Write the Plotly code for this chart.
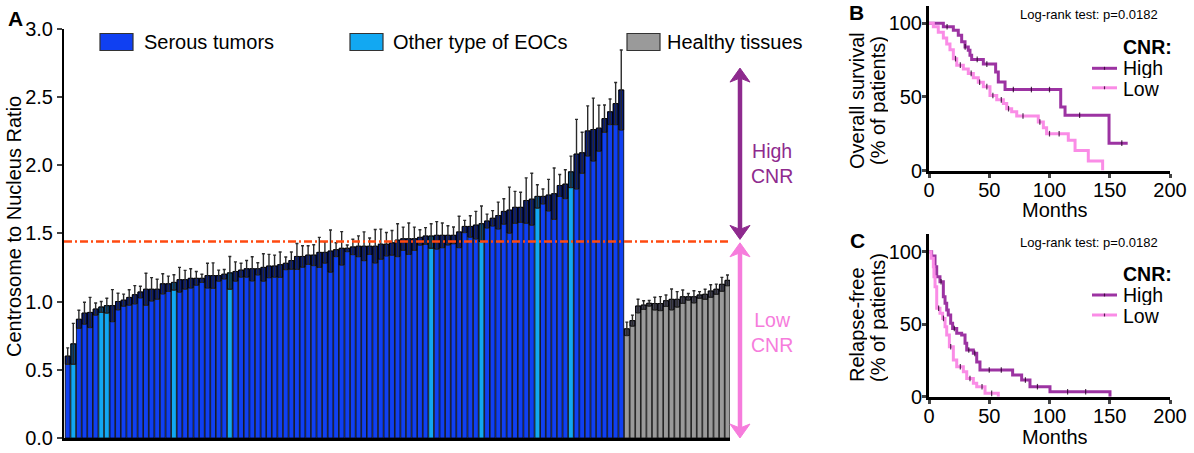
import plotly.graph_objects as go

W, H = 1194, 453
FONT = "Liberation Sans, Arial, Helvetica, sans-serif"

# ---- Panel A: centrosome-to-nucleus ratio per sample (mean, sem), sorted ----
tumor_ratio = [
    0.60, 0.69, 0.87, 0.915, 0.92, 0.945, 0.96, 0.97, 0.97, 1.00,
    1.01, 1.03, 1.05, 1.07, 1.09, 1.09, 1.09, 1.13, 1.13, 1.14,
    1.16, 1.16, 1.17, 1.17, 1.17, 1.19, 1.19, 1.19, 1.20, 1.21,
    1.22, 1.23, 1.24, 1.24, 1.24, 1.25, 1.26, 1.26, 1.27, 1.28,
    1.30, 1.33, 1.33, 1.34, 1.34, 1.36, 1.36, 1.37, 1.38, 1.39,
    1.39, 1.40, 1.405, 1.405, 1.405, 1.405, 1.42, 1.42, 1.43, 1.45,
    1.46, 1.46, 1.46, 1.47, 1.48, 1.48, 1.485, 1.485, 1.485, 1.485,
    1.51, 1.55, 1.55, 1.56, 1.57, 1.59, 1.61, 1.63, 1.66, 1.67,
    1.69, 1.69, 1.74, 1.75, 1.77, 1.77, 1.78, 1.79, 1.85, 1.86,
    1.95, 2.08, 2.09, 2.25, 2.26, 2.27, 2.34, 2.39, 2.45, 2.55,
]
tumor_err = [
    0.060, 0.150, 0.066, 0.080, 0.110, 0.044, 0.040, 0.054, 0.117, 0.060,
    0.044, 0.056, 0.066, 0.042, 0.117, 0.085, 0.073, 0.073, 0.056, 0.056,
    0.090, 0.068, 0.070, 0.050, 0.030, 0.090, 0.093, 0.040, 0.034, 0.120,
    0.070, 0.050, 0.060, 0.088, 0.044, 0.100, 0.085, 0.080, 0.093, 0.046,
    0.063, 0.095, 0.078, 0.068, 0.076, 0.110, 0.078, 0.154, 0.050, 0.122,
    0.024, 0.056, 0.076, 0.105, 0.060, 0.122, 0.110, 0.085, 0.090, 0.120,
    0.085, 0.115, 0.085, 0.056, 0.061, 0.090, 0.100, 0.090, 0.070, 0.061,
    0.115, 0.044, 0.078, 0.100, 0.130, 0.050, 0.056, 0.098, 0.093, 0.168,
    0.117, 0.110, 0.166, 0.190, 0.085, 0.054, 0.115, 0.188, 0.080, 0.105,
    0.115, 0.254, 0.150, 0.183, 0.230, 0.168, 0.100, 0.093, 0.154, 0.293,
]
# ranks (1-based, within tumours) of non-serous epithelial ovarian cancers
other_eoc_ranks = [2, 7, 8, 20, 30, 66, 75, 85, 91]

healthy_ratio = [
    0.80, 0.86, 0.967, 0.974, 0.987, 0.985, 0.985, 1.006, 1.016, 1.016,
    1.035, 1.035, 1.035, 1.048, 1.053, 1.077, 1.09, 1.126, 1.155,
]
healthy_err = [
    0.049, 0.040, 0.049, 0.032, 0.020, 0.046, 0.051, 0.042, 0.076, 0.056,
    0.049, 0.024, 0.044, 0.024, 0.037, 0.046, 0.037, 0.051, 0.039,
]
cnr_cutoff = 1.44
ratio_ticks = [0.0, 0.5, 1.0, 1.5, 2.0, 2.5, 3.0]

# ---- Panels B/C: Kaplan-Meier step curves (months, % of patients) ----
os_high_t = [0, 11.9, 20.2, 24.3, 27.1, 29.9, 32.6, 34.0, 35.4, 45.1, 55.3, 57.5, 63.1, 109.3, 112.9, 149.4, 164.9]
os_high_s = [100, 97.7, 95.4, 92.0, 87.5, 84.0, 81.8, 78.4, 75.5, 72.3, 67.0, 60.2, 55.0, 43.2, 37.5, 18.6, 18.6]
os_low_t = [0, 3.6, 7.7, 11.9, 14.7, 17.4, 20.2, 23.0, 28.5, 32.6, 36.8, 40.9, 45.1, 50.6, 56.2,
            61.7, 64.5, 68.6, 72.8, 90.7, 94.9, 97.6, 115.6, 121.2, 132.2, 144.1]
os_low_s = [100, 97.7, 94.0, 90.0, 86.0, 82.0, 76.0, 71.6, 69.0, 66.0, 63.0, 60.0, 57.0, 51.0, 48.0,
            45.5, 42.0, 40.0, 37.0, 33.0, 29.0, 25.0, 20.5, 13.6, 6.4, 0]
os_high_cens = [15, 30, 40, 48, 70, 85, 100, 125, 160]
os_low_cens = [22, 26, 35, 42, 48, 53, 60, 66, 78, 92, 100, 108]

rfs_high_t = [0, 2.2, 5.0, 6.4, 9.1, 11.9, 13.3, 14.7, 16.0, 18.0, 19.6, 23.0, 27.1, 29.9, 31.3,
              36.8, 39.6, 42.3, 69.4, 76.9, 83.8, 100.4, 150.2]
rfs_high_s = [100, 97.0, 89.6, 82.8, 79.3, 69.0, 64.4, 59.8, 56.3, 50.6, 47.0, 43.7, 42.5, 36.8, 32.2,
              29.9, 24.0, 18.4, 15.0, 11.5, 6.9, 3.4, 0]
rfs_low_t = [0, 1.7, 3.6, 4.1, 5.0, 6.4, 9.1, 11.3, 13.3, 14.7, 16.9, 20.2, 23.0, 28.5, 31.3, 36.8, 39.6, 46.5, 57.5]
rfs_low_s = [100, 95.4, 89.7, 82.8, 75.9, 61.0, 57.5, 54.0, 48.3, 42.5, 34.5, 25.3, 20.7, 17.2, 12.6, 9.2, 6.9, 2.3, 0]
rfs_high_cens = [10, 21, 33, 38, 50, 60, 80, 90, 115, 130]
rfs_low_cens = [8, 12, 18, 26, 34, 44, 52]

month_ticks = [0, 50, 100, 150, 200]
pct_ticks = [0, 50, 100]
pvalue_text = "Log-rank test: p=0.0182"

# ---- colours ----
SEROUS = "#1040F2"
OTHER = "#12A8F2"
HEALTHY = "#9A9A9A"
CUT = "#FF4A10"
HIGH = "#8E2A8E"
LOW = "#F67CDC"
KM_HIGH = "#9C33A2"
KM_LOW = "#FA8CE6"


def px(x):
    return x / W


def py(y):
    return 1 - y / H


def surv_at(ts, ss, t):
    val = ss[0]
    for ti, si in zip(ts, ss):
        if ti <= t:
            val = si
    return val


ratios = tumor_ratio + healthy_ratio
errs = tumor_err + healthy_err
xs = list(range(1, len(ratios) + 1))
colors = []
for i in range(len(tumor_ratio)):
    colors.append(OTHER if (i + 1) in other_eoc_ranks else SEROUS)
colors += [HEALTHY] * len(healthy_ratio)

fig = go.Figure()

fig.add_trace(go.Bar(
    x=xs, y=ratios, marker=dict(color=colors, line=dict(color="black", width=0.8)),
    xaxis="x", yaxis="y", showlegend=False, hoverinfo="skip",
))
# darker lower half of each error interval, drawn as a box over the bar
fig.add_trace(go.Bar(
    x=xs, y=errs, base=[v - e for v, e in zip(ratios, errs)],
    marker=dict(color="rgba(0,0,35,0.55)", line=dict(color="black", width=0.8)),
    xaxis="x", yaxis="y", showlegend=False, hoverinfo="skip",
))
fig.add_trace(go.Scatter(
    x=xs, y=ratios, mode="markers", marker=dict(size=1, opacity=0),
    error_y=dict(type="data", array=errs, color="#2a2a2a", thickness=1.4, width=1.5),
    xaxis="x", yaxis="y", showlegend=False, hoverinfo="skip",
))


def km(ts, ss, cens, color, xa, ya):
    fig.add_trace(go.Scatter(
        x=ts, y=ss, mode="lines", line=dict(color=color, width=3, shape="hv"),
        xaxis=xa, yaxis=ya, showlegend=False, cliponaxis=False, hoverinfo="skip",
    ))
    fig.add_trace(go.Scatter(
        x=cens, y=[surv_at(ts, ss, c) for c in cens], mode="markers",
        marker=dict(symbol="line-ns", size=4, line=dict(color="rgba(40,0,40,0.8)", width=1.2)),
        xaxis=xa, yaxis=ya, showlegend=False, cliponaxis=False, hoverinfo="skip",
    ))


km(os_high_t, os_high_s, os_high_cens, KM_HIGH, "x2", "y2")
km(os_low_t, os_low_s, os_low_cens, KM_LOW, "x2", "y2")
km(rfs_high_t, rfs_high_s, rfs_high_cens, KM_HIGH, "x3", "y3")
km(rfs_low_t, rfs_low_s, rfs_low_cens, KM_LOW, "x3", "y3")

tickfont = dict(family=FONT, size=20, color="black")
common = dict(showgrid=False, zeroline=False, showline=True, linecolor="black", fixedrange=True)

km_x = dict(common, range=[0, 200], tickvals=month_ticks, ticks="outside", ticklen=4,
            tickwidth=2.5, linewidth=3, tickfont=tickfont, ticklabelstandoff=-5)
km_y = dict(common, range=[0, 112], tickvals=pct_ticks, ticks="outside", ticklen=4,
            tickwidth=2.5, linewidth=3, tickfont=tickfont, ticklabelstandoff=-4)

fig.update_layout(
    width=W, height=H, margin=dict(l=0, r=0, t=0, b=0, autoexpand=False),
    paper_bgcolor="white", plot_bgcolor="white",
    barmode="overlay", bargap=0.12,
    font=dict(family=FONT, color="black"),
    xaxis=dict(common, domain=[px(64), px(730)], range=[0.34, 119.45], linewidth=3,
               showticklabels=False, ticks="", anchor="y"),
    yaxis=dict(common, domain=[py(438), py(28.5)], range=[0, 3], tickvals=ratio_ticks,
               tickformat=".1f", ticks="outside", ticklen=5, tickwidth=2, linewidth=2,
               tickfont=tickfont, anchor="x"),
    xaxis2=dict(km_x, domain=[px(929), px(1170)], anchor="y2"),
    yaxis2=dict(km_y, domain=[py(170.5), py(5.7)], anchor="x2"),
    xaxis3=dict(km_x, domain=[px(929), px(1170)], anchor="y3"),
    yaxis3=dict(km_y, domain=[py(396.7), py(234.3)], anchor="x3"),
)

shapes = []
# CNR cut-off
shapes.append(dict(type="line", xref="x domain", yref="y", x0=0, x1=1, y0=cnr_cutoff, y1=cnr_cutoff,
                   line=dict(color=CUT, width=2.5, dash="8px,3px,2px,3px"), layer="above"))


def double_arrow(y_lo, y_hi, color):
    xc = 1.015
    hw = 10 / 666
    hl = 14 / 136.5
    notch = 4 / 136.5
    shapes.append(dict(type="line", xref="x domain", yref="y", x0=xc, x1=xc,
                       y0=y_lo + hl * 0.6, y1=y_hi - hl * 0.6, line=dict(color=color, width=4.5)))
    up = (f"M{xc},{y_hi} L{xc - hw},{y_hi - hl} L{xc},{y_hi - hl + notch} "
          f"L{xc + hw},{y_hi - hl} Z")
    dn = (f"M{xc},{y_lo} L{xc - hw},{y_lo + hl} L{xc},{y_lo + hl - notch} "
          f"L{xc + hw},{y_lo + hl} Z")
    for p in (up, dn):
        shapes.append(dict(type="path", xref="x domain", yref="y", path=p,
                           fillcolor=color, line=dict(color=color, width=1)))


double_arrow(cnr_cutoff + 0.015, 2.71, HIGH)
double_arrow(0.0, cnr_cutoff - 0.01, LOW)

# legend swatches for panel A
for x0, col in ((100, SEROUS), (350, OTHER), (627, HEALTHY)):
    shapes.append(dict(type="rect", xref="paper", yref="paper", x0=px(x0), x1=px(x0 + 33),
                       y0=py(50.5), y1=py(33.5), fillcolor=col, line=dict(color="#333", width=1.2)))

# KM legend line samples
for yl, col in ((68.3, KM_HIGH), (87.8, KM_LOW), (295, KM_HIGH), (315, KM_LOW)):
    shapes.append(dict(type="line", xref="paper", yref="paper", x0=px(1092), x1=px(1117),
                       y0=py(yl), y1=py(yl), line=dict(color=col, width=3)))
    shapes.append(dict(type="line", xref="paper", yref="paper", x0=px(1104.5), x1=px(1104.5),
                       y0=py(yl - 1.5), y1=py(yl + 1.5), line=dict(color="rgba(40,0,40,0.8)", width=1.2)))

fig.update_layout(shapes=shapes)

ann = []


def text(x, y, s, size=20, color="black", xanchor="center", angle=0, bold=False, **kw):
    if bold:
        s = f"<b>{s}</b>"
    ann.append(dict(x=px(x), y=py(y), xref="paper", yref="paper", text=s, showarrow=False,
                    xanchor=xanchor, yanchor="middle", textangle=angle,
                    font=dict(family=FONT, size=size, color=color), **kw))


# panel letters
text(15, 19, "A", size=21, bold=True)
text(856, 12, "B", size=21, bold=True)
text(857, 240, "C", size=21, bold=True)

# panel A texts
text(14, 227, "Centrosome to Nucleus Ratio", angle=-90)
text(142, 42, "Serous tumors", xanchor="left")
text(391, 42, "Other type of EOCs", xanchor="left")
text(665, 42, "Healthy tissues", xanchor="left")
ann.append(dict(x=(772 - 64) / 666, y=(438 - 163) / 136.5, xref="x domain", yref="y",
                text="High<br>CNR", showarrow=False, xanchor="center", yanchor="middle",
                font=dict(family=FONT, size=19.5, color=HIGH)))
ann.append(dict(x=(772 - 64) / 666, y=(438 - 332) / 136.5, xref="x domain", yref="y",
                text="Low<br>CNR", showarrow=False, xanchor="center", yanchor="middle",
                font=dict(family=FONT, size=19.5, color=LOW)))

# panel B texts
text(1089, 15, pvalue_text, size=13)
text(857, 101, "Overall survival", angle=-90, height=20)
text(878, 101, "(% of patients)", angle=-90, height=20)
text(1055, 209, "Months", height=19)
text(1121, 46.5, "CNR:", size=19.5, xanchor="left", bold=True, height=21)
text(1121, 67.5, "High", size=19.5, xanchor="left", height=21)
text(1121, 88.5, "Low", size=19.5, xanchor="left", height=21)

# panel C texts
text(1089, 242.5, pvalue_text, size=13)
text(857, 325, "Relapse-free", angle=-90, height=20)
text(878, 318, "(% of patients)", angle=-90, height=20)
text(1055, 436, "Months", height=19)
text(1121, 273.5, "CNR:", size=19.5, xanchor="left", bold=True, height=21)
text(1121, 294.5, "High", size=19.5, xanchor="left", height=21)
text(1121, 315.5, "Low", size=19.5, xanchor="left", height=21)

fig.update_layout(annotations=ann)

fig.write_html("out.html")
